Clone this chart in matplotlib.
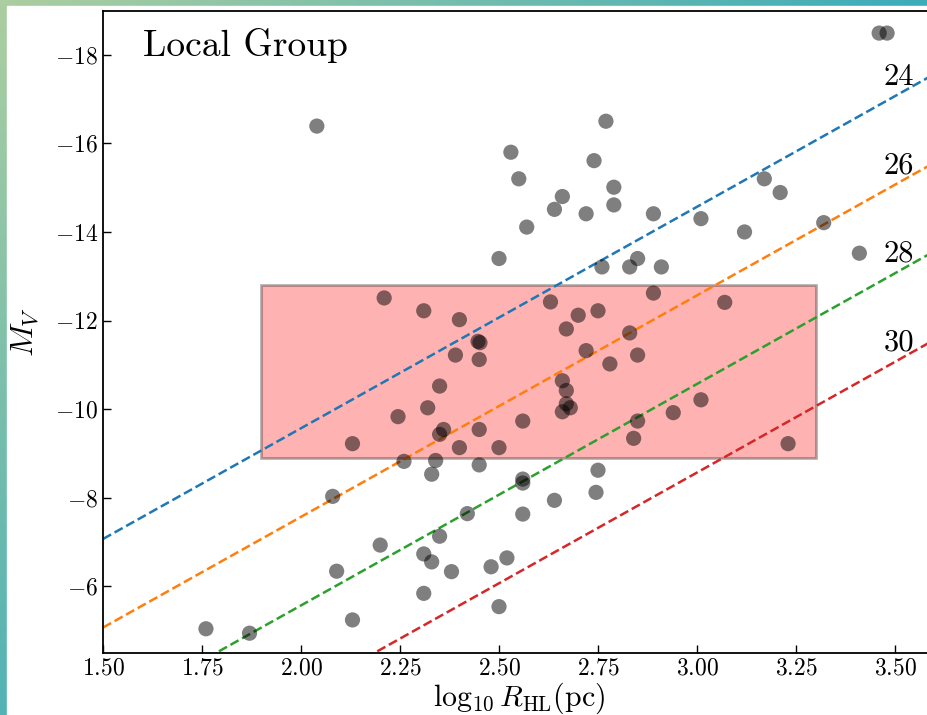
import matplotlib
matplotlib.use("Agg")
import matplotlib.pyplot as plt
import numpy as np
from matplotlib.patches import Rectangle
from matplotlib.ticker import MultipleLocator

plt.rcParams['font.family'] = 'serif'
plt.rcParams['font.serif'] = ['cmr10']
plt.rcParams['mathtext.fontset'] = 'cm'
plt.rcParams['axes.formatter.use_mathtext'] = True

# Local Group galaxies: log10 half-light radius (pc) and absolute V magnitude
log_rhl = [2.04, 2.77, 2.53, 2.74, 2.55, 2.79, 2.66, 2.64, 2.79, 2.72,
           2.89, 2.57, 3.01, 3.12, 3.17, 3.21, 3.32, 3.41, 3.46, 3.48,
           2.50, 2.76, 2.85, 2.83, 2.91,
           2.21, 2.31, 2.40, 2.63, 2.70, 2.75, 2.89, 2.67, 2.83, 3.07,
           2.447, 2.452, 2.39, 2.45, 2.72, 2.85, 2.78, 2.35, 2.66, 2.67,
           2.67, 2.68, 2.66, 2.32, 2.245, 2.36, 2.35, 2.45, 2.56, 2.40,
           2.50, 2.85, 2.84, 2.94, 3.01, 2.13, 3.23,
           2.26, 2.34, 2.33, 2.45, 2.56, 2.56, 2.75, 2.745, 2.64, 2.42,
           2.56, 2.35, 2.31, 2.33, 2.38, 2.48, 2.52, 2.31, 2.50, 1.76,
           1.87, 2.08, 2.09, 2.13, 2.20]
m_v = [-16.39, -16.50, -15.80, -15.61, -15.20, -15.01, -14.80, -14.51, -14.61, -14.41,
       -14.41, -14.11, -14.30, -14.00, -15.20, -14.89, -14.21, -13.52, -18.49, -18.49,
       -13.40, -13.21, -13.40, -13.21, -13.21,
       -12.51, -12.22, -12.02, -12.42, -12.12, -12.22, -12.62, -11.81, -11.72, -12.41,
       -11.53, -11.50, -11.22, -11.12, -11.32, -11.22, -11.02, -10.52, -10.64, -10.42,
       -10.12, -10.03, -9.94, -10.03, -9.83, -9.54, -9.43, -9.54, -9.73, -9.13,
       -9.13, -9.73, -9.34, -9.92, -10.21, -9.22, -9.22,
       -8.82, -8.84, -8.53, -8.74, -8.42, -8.33, -8.62, -8.12, -7.94, -7.64,
       -7.63, -7.13, -6.73, -6.55, -6.33, -6.44, -6.64, -5.84, -5.54, -5.04,
       -4.94, -8.03, -6.34, -5.24, -6.93]

# iso surface-brightness lines (mag / arcsec^2)
mu_levels = [24, 26, 28, 30]
mu_colors = ['tab:blue', 'tab:orange', 'tab:green', 'tab:red']

# selection box
box_x = [1.9, 3.3]
box_m = [-12.8, -8.9]

W, H = 928, 715
fig = plt.figure(figsize=(W / 100, H / 100), dpi=100)

# screenshot-style gradient frame behind the white figure
bg = fig.add_axes([0, 0, 1, 1], zorder=-10)
xx, yy = np.meshgrid(np.linspace(0, 1, 200), np.linspace(0, 1, 160))
t = np.clip(xx + 0.8 * yy, 0, 1)[..., None]
c0 = np.array([172, 206, 160]) / 255
c1 = np.array([60, 172, 186]) / 255
bg.imshow(c0 * (1 - t) + c1 * t, extent=[0, 1, 0, 1], origin='upper', aspect='auto')
bg.add_patch(Rectangle((7 / W, 0), 1, 1 - 6 / H, color='white'))
bg.set_xlim(0, 1)
bg.set_ylim(0, 1)
bg.axis('off')

ax = fig.add_axes([103 / W, 1 - 652.7 / H, 2.1 * 396 / W, 642.2 / H])
ax.set_facecolor('none')

xs = np.array([1.5, 3.6])
for mu, c in zip(mu_levels, mu_colors):
    m_line = mu - 5 * xs - 2.5 * np.log10(2 * np.pi) - 5 * np.log10(206265 / 10)
    ax.plot(xs, m_line, '--', color=c, lw=1.8, zorder=2)
    ax.text(3.51, mu - 41.5, str(mu), fontsize=22, ha='center', va='center')

ax.add_patch(Rectangle((box_x[0], box_m[0]), box_x[1] - box_x[0], box_m[1] - box_m[0],
                       facecolor='red', edgecolor='black', lw=2, alpha=0.3, zorder=1))

ax.scatter(log_rhl, m_v, s=120, color='black', alpha=0.5, edgecolors='none', zorder=3)

ax.text(0.048, 0.945, 'Local Group', transform=ax.transAxes, fontsize=27,
        ha='left', va='center')

ax.set_xlim(1.5, 3.6)
ax.set_ylim(-4.5, -19)
ax.xaxis.set_major_locator(MultipleLocator(0.25))
ax.yaxis.set_major_locator(MultipleLocator(2))
ax.tick_params(direction='in', labelsize=17, length=6, width=1)
for s in ax.spines.values():
    s.set_linewidth(1.3)
ax.set_xlabel(r'$\log_{10} R_{\rm HL}({\rm pc})$', fontsize=21.5, labelpad=1)
ax.set_ylabel(r'$M_V$', fontsize=23, labelpad=10)

fig.savefig('out.png', dpi=100)
